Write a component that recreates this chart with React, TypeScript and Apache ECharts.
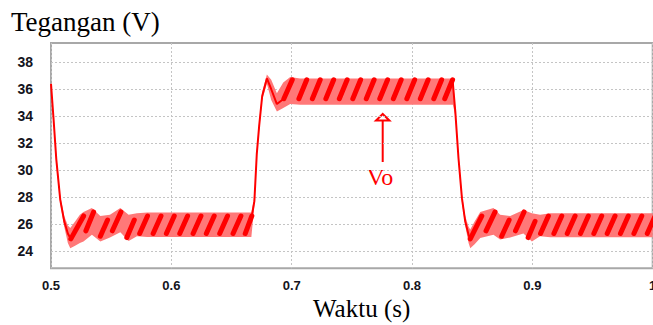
import React, { useEffect, useRef } from "react";
import * as echarts from "echarts";

// Axis ticks
const xTicks = [0.5, 0.6, 0.7, 0.8, 0.9, 1.0];
const yTicks = [24, 26, 28, 30, 32, 34, 36, 38];

// Ripple envelope (upper / lower bound of the Vo band)
const envT = [0.5, 0.5022, 0.5044, 0.5077, 0.511, 0.514, 0.516, 0.52, 0.524, 0.527, 0.534, 0.541, 0.549, 0.5576, 0.5645, 0.5714, 0.58, 0.6665, 0.669, 0.671, 0.673, 0.6755, 0.6794, 0.683, 0.6877, 0.693, 0.6988, 0.707, 0.834, 0.836, 0.8386, 0.8415, 0.8442, 0.847, 0.8484, 0.852, 0.8567, 0.8677, 0.8732, 0.8816, 0.8926, 0.8996, 0.9064, 0.915, 1.0];
const envUpper = [36.6, 34.0, 31.1, 28.1, 26.6, 25.9, 25.7, 26.2, 26.7, 26.9, 27.2, 26.6, 26.7, 27.2, 26.7, 26.8, 26.85, 26.85, 28.0, 31.5, 33.6, 35.8, 37.1, 36.7, 35.7, 36.5, 36.9, 36.8, 36.8, 34.6, 31.2, 28.2, 26.6, 25.8, 25.6, 26.2, 26.9, 27.2, 26.7, 26.6, 27.05, 26.8, 26.7, 26.8, 26.8];
const envLower = [35.9, 33.4, 30.5, 27.5, 25.8, 24.6, 24.2, 24.4, 24.6, 24.7, 25.2, 24.7, 25.0, 25.4, 24.75, 25.1, 25.05, 25.05, 27.4, 30.9, 33.0, 35.2, 36.4, 35.2, 34.35, 34.6, 34.9, 34.85, 34.85, 34.0, 30.6, 27.6, 25.9, 24.6, 24.2, 24.5, 24.96, 25.2, 24.85, 25.0, 25.3, 24.7, 25.1, 25.02, 25.02];

// Transient traces (initial decay, step up, step down)
const decayT = [0.5, 0.5022, 0.5044, 0.5077, 0.511, 0.514, 0.5165];
const decayV = [36.4, 33.7, 30.8, 27.8, 26.2, 25.3, 24.9];
const riseT = [0.6669, 0.669, 0.671, 0.673, 0.6755, 0.6794, 0.683, 0.6877, 0.6935];
const riseV = [26.6, 27.7, 31.2, 33.3, 35.5, 36.8, 36.0, 34.9, 35.3];
const fallT = [0.8337, 0.836, 0.8386, 0.8415, 0.8442, 0.847, 0.8484];
const fallV = [36.7, 34.3, 30.9, 27.9, 26.2, 25.2, 24.9];

// Ripple teeth (dark sawtooth ramps): start and end of each ramp
const toothStartT = [0.5165, 0.529, 0.541, 0.551, 0.563, 0.5737, 0.5849, 0.5959, 0.607, 0.6181, 0.6291, 0.6402, 0.6513, 0.6614,
  0.6935, 0.706, 0.7172, 0.7284, 0.7396, 0.7508, 0.762, 0.7732, 0.7845, 0.7957, 0.8069, 0.8181, 0.8272,
  0.8484, 0.8615, 0.8745, 0.886, 0.8965, 0.9068, 0.9179, 0.929, 0.94, 0.9511, 0.9622, 0.9732, 0.9844, 0.9955];
const toothStartV = [24.9, 25.5, 25.1, 25.5, 25.0, 25.3, 25.3, 25.3, 25.3, 25.3, 25.3, 25.3, 25.3, 25.3,
  35.3, 35.3, 35.3, 35.3, 35.3, 35.3, 35.3, 35.3, 35.3, 35.3, 35.3, 35.3, 35.3,
  24.9, 25.5, 25.1, 25.5, 25.0, 25.3, 25.3, 25.3, 25.3, 25.3, 25.3, 25.3, 25.3, 25.3];
const toothEndT = [0.5271, 0.5354, 0.547, 0.5581, 0.5692, 0.5802, 0.5914, 0.6024, 0.6135, 0.6246, 0.6356, 0.6467, 0.6578, 0.6669,
  0.7005, 0.7125, 0.7237, 0.7349, 0.7461, 0.7573, 0.7685, 0.7797, 0.791, 0.8022, 0.8134, 0.8246, 0.8337,
  0.858, 0.869, 0.8807, 0.8931, 0.9022, 0.9133, 0.9244, 0.9355, 0.9465, 0.9576, 0.9687, 0.9797, 0.9909, 1.002];
const toothEndV = [26.6, 26.9, 26.3, 26.9, 26.3, 26.6, 26.6, 26.6, 26.6, 26.6, 26.6, 26.6, 26.6, 26.6,
  36.7, 36.7, 36.7, 36.7, 36.7, 36.7, 36.7, 36.7, 36.7, 36.7, 36.7, 36.7, 36.7,
  26.6, 26.9, 26.3, 26.9, 26.2, 26.6, 26.6, 26.6, 26.6, 26.6, 26.6, 26.6, 26.6, 26.6];

const serif = "'Liberation Serif', 'Times New Roman', serif";
const sans = "'Liberation Sans', Arial, sans-serif";

export default function App() {
  const ref = useRef<HTMLDivElement>(null);
  useEffect(() => {
    const chart = echarts.init(ref.current!, null, { renderer: "svg" });

    const traceData: any[] = [];
    const pushSeg = (ts: number[], vs: number[]) => {
      ts.forEach((t, i) => traceData.push([t, vs[i]]));
      traceData.push([ts[ts.length - 1], "-"]);
    };
    pushSeg(decayT, decayV);
    pushSeg(riseT, riseV);
    pushSeg(fallT, fallV);

    const teeth = toothStartT.map((t, i) => [t, toothStartV[i], toothEndT[i], toothEndV[i]]);

    chart.setOption({
      animation: false,
      grid: {
        left: 51,
        right: 0.3,
        top: 43,
        bottom: 56.7,
        containLabel: false,
        outerBoundsMode: "none",
        show: true,
        backgroundColor: "#ffffff",
        borderColor: "#a8a8a8",
        borderWidth: 2,
      },
      xAxis: {
        type: "value",
        min: xTicks[0],
        max: xTicks[xTicks.length - 1],
        interval: 0.1,
        axisLine: { show: false },
        axisTick: { show: false },
        axisLabel: {
          fontFamily: sans,
          fontWeight: "bold",
          fontSize: 13,
          color: "#141420",
          margin: 11,
          hideOverlap: false,
          formatter: (v: number) => String(Math.round(v * 10) / 10),
        },
        splitLine: { show: true, lineStyle: { color: "#c4c4c4", type: [2, 2], width: 1 } },
      },
      yAxis: {
        type: "value",
        min: 22.72,
        max: 39.43,
        axisLine: { show: false },
        axisTick: { show: false, customValues: yTicks },
        axisLabel: {
          customValues: yTicks,
          fontFamily: sans,
          fontWeight: "bold",
          fontSize: 14,
          color: "#141420",
          margin: 18,
        },
        splitLine: { show: true, lineStyle: { color: "#c4c4c4", type: [2, 2], width: 1 } },
      },
      series: [
        {
          type: "custom",
          coordinateSystem: "cartesian2d",
          clip: true,
          silent: true,
          z: 1,
          data: [[envT[0], envUpper[0]]],
          renderItem: (_p: any, api: any) => {
            const pts: number[][] = [];
            for (let i = 0; i < envT.length; i++) pts.push(api.coord([envT[i], envUpper[i]]));
            for (let i = envT.length - 1; i >= 0; i--) pts.push(api.coord([envT[i], envLower[i]]));
            return { type: "polygon", shape: { points: pts }, style: { fill: "#ff7878" } };
          },
        },
        {
          type: "custom",
          coordinateSystem: "cartesian2d",
          clip: true,
          silent: true,
          z: 3,
          encode: { x: [0, 2], y: [1, 3] },
          data: teeth,
          renderItem: (_p: any, api: any) => {
            const a = api.coord([api.value(0), api.value(1)]);
            const b = api.coord([api.value(2), api.value(3)]);
            return {
              type: "line",
              shape: { x1: a[0], y1: a[1], x2: b[0], y2: b[1] },
              style: { stroke: "#ff0000", lineWidth: 5, lineCap: "round" },
            };
          },
        },
        {
          type: "line",
          data: traceData,
          showSymbol: false,
          connectNulls: false,
          clip: true,
          z: 4,
          lineStyle: { color: "#ff0000", width: 2 },
        },
      ],
      graphic: [
        {
          type: "text",
          left: 11,
          top: 8,
          style: { text: "Tegangan (V)", fontFamily: serif, fontSize: 27, fill: "#000" },
        },
        {
          type: "text",
          left: 313,
          top: 296,
          style: { text: "Waktu (s)", fontFamily: serif, fontSize: 25, fill: "#000" },
        },
        {
          type: "line",
          shape: { x1: 382.7, y1: 162, x2: 382.7, y2: 120 },
          style: { stroke: "#ff0000", lineWidth: 2 },
        },
        {
          type: "polygon",
          shape: { points: [[382.7, 114], [376, 120.5], [389.4, 120.5]] },
          style: { stroke: "#ff0000", lineWidth: 2, fill: "#ffffff" },
        },
        {
          type: "text",
          left: 367,
          top: 165,
          style: { text: "Vo", fontFamily: serif, fontSize: 24, fill: "#ff0000" },
        },
      ],
    });
    return () => chart.dispose();
  }, []);
  return <div ref={ref} style={{ position: "absolute", left: 0, top: 0, width: 653, height: 325 }} />;
}
